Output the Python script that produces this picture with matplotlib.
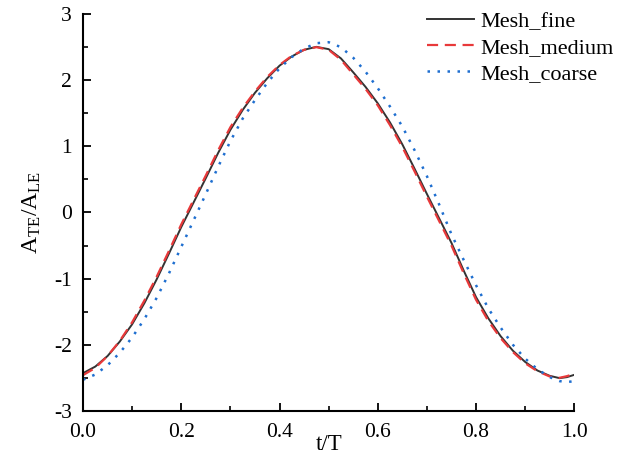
import matplotlib
matplotlib.use("Agg")
import matplotlib.pyplot as plt
from matplotlib.ticker import MultipleLocator

plt.rcParams["font.family"] = ["Liberation Serif", "DejaVu Serif"]
plt.rcParams["mathtext.fontset"] = "custom"
plt.rcParams["mathtext.rm"] = "Liberation Serif"
plt.rcParams["axes.unicode_minus"] = False

# Data
t = [0.0, 0.025, 0.05, 0.075, 0.1, 0.125, 0.15, 0.175, 0.2, 0.225, 0.25, 0.275,
     0.3, 0.325, 0.35, 0.375, 0.4, 0.425, 0.45, 0.475, 0.5, 0.525, 0.55, 0.575,
     0.6, 0.625, 0.65, 0.675, 0.7, 0.725, 0.75, 0.775, 0.8, 0.825, 0.85, 0.875,
     0.9, 0.925, 0.95, 0.97, 0.985, 1.0]

fine = [-2.43, -2.33, -2.17, -1.95, -1.69, -1.37, -1.01, -0.62, -0.22, 0.15, 0.52, 0.90,
        1.25, 1.55, 1.81, 2.03, 2.22, 2.36, 2.46, 2.505, 2.47, 2.33, 2.12, 1.90,
        1.65, 1.36, 1.03, 0.66, 0.28, -0.09, -0.46, -0.88, -1.28, -1.60, -1.87, -2.09,
        -2.26, -2.39, -2.47, -2.505, -2.49, -2.455]

medium = [-2.46, -2.35, -2.17, -1.94, -1.66, -1.33, -0.97, -0.58, -0.18, 0.19, 0.56, 0.94,
          1.29, 1.58, 1.83, 2.05, 2.23, 2.37, 2.46, 2.50, 2.46, 2.31, 2.09, 1.87,
          1.62, 1.32, 0.99, 0.62, 0.24, -0.13, -0.50, -0.92, -1.32, -1.64, -1.90, -2.11,
          -2.28, -2.40, -2.48, -2.50, -2.475, -2.44]

coarse = [-2.53, -2.45, -2.31, -2.12, -1.89, -1.61, -1.29, -0.92, -0.52, -0.12, 0.28, 0.69,
          1.08, 1.42, 1.70, 1.96, 2.18, 2.35, 2.48, 2.56, 2.575, 2.50, 2.34, 2.13,
          1.88, 1.60, 1.30, 0.94, 0.55, 0.12, -0.33, -0.72, -1.10, -1.45, -1.74, -2.00,
          -2.21, -2.37, -2.49, -2.55, -2.565, -2.55]

fig = plt.figure(figsize=(6.29, 4.55), dpi=100)
ax = fig.add_axes([0.132, 0.097, 0.781, 0.872])

ax.plot(t, fine, color="#333333", linestyle="-", linewidth=1.4, label="Mesh_fine")
ax.plot(t, medium, color="#e8393a", linestyle=(0, (5, 3)), linewidth=1.6, label="Mesh_medium")
ax.plot(t, coarse, color="#1f6fd0", linestyle=(0, (1, 3)), linewidth=1.8, label="Mesh_coarse")

ax.set_xlim(0, 1)
ax.set_ylim(-3, 3)
ax.xaxis.set_major_locator(MultipleLocator(0.2))
ax.xaxis.set_minor_locator(MultipleLocator(0.1))
ax.yaxis.set_major_locator(MultipleLocator(1))
ax.yaxis.set_minor_locator(MultipleLocator(0.5))
ax.xaxis.set_major_formatter(plt.FormatStrFormatter("%.1f"))

for side in ["top", "right"]:
    ax.spines[side].set_visible(False)
for side in ["left", "bottom"]:
    ax.spines[side].set_linewidth(1.5)

ax.tick_params(which="major", direction="in", length=6, width=1.3, labelsize=15.5)
ax.tick_params(axis="x", which="major", pad=9)
ax.tick_params(axis="y", which="major", pad=8)
ax.tick_params(which="minor", direction="in", length=3.5, width=1.2)

ax.set_xlabel("t/T", fontsize=16.5, labelpad=-6)
ax.set_ylabel(r"$\mathregular{A_{TE}/A_{LE}}$", fontsize=17, labelpad=8)

ax.legend(loc="upper right", bbox_to_anchor=(0.99, 0.995), bbox_transform=fig.transFigure,
          frameon=False, fontsize=16, handlelength=2.1, handletextpad=0.3,
          labelspacing=0.25, borderaxespad=0)

plt.savefig("out.png", dpi=100)
plt.close()
